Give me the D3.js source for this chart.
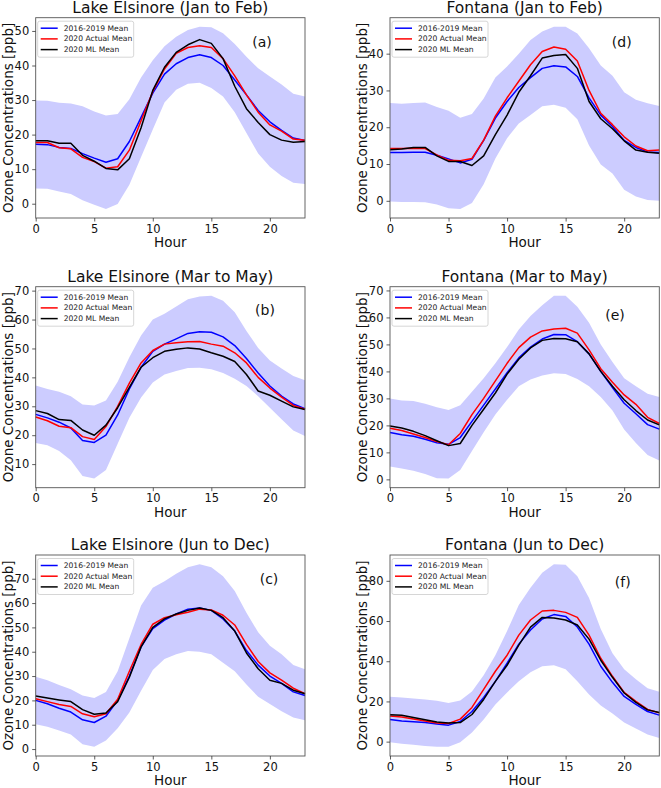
<!DOCTYPE html>
<html><head><meta charset="utf-8">
<script src="https://cdn.jsdelivr.net/npm/d3@7"></script>
<style>body{margin:0;background:#fff}svg{display:block}text{font-family:"DejaVu Sans",sans-serif}</style>
</head><body>
<svg id="c" width="661" height="788"></svg>
<script>
const hours = d3.range(0, 24);
const seriesNames = ["2016-2019 Mean", "2020 Actual Mean", "2020 ML Mean"];
const seriesColors = ["#0000ff", "#ff0000", "#000000"];

// Panel (a) Lake Elsinore Jan-Feb
const a_hist = [17.2,17.1,16.3,16.0,14.5,13.2,12.0,13.0,18.0,25.0,32.0,37.5,40.5,42.3,43.1,42.3,40.0,35.8,31.5,27.0,23.7,21.2,19.0,18.3];
const a_act  = [17.7,17.7,16.2,15.9,13.4,12.2,10.3,10.7,15.5,24.0,32.5,39.0,43.5,45.2,45.7,45.2,42.0,37.0,31.5,26.5,22.8,21.0,18.7,18.4];
const a_ml   = [18.2,18.2,17.5,17.5,14.0,12.3,10.2,9.8,13.0,22.0,32.8,39.5,43.8,46.0,47.5,46.4,42.0,34.0,27.5,23.5,20.0,18.4,17.8,18.0];
const a_up   = [29.9,29.8,29.2,29.0,28.2,26.7,25.5,26.0,30.2,36.5,41.5,45.6,48.3,50.3,51.2,51.1,49.3,46.2,42.5,39.2,36.8,34.5,31.8,31.0];
const a_lo   = [4.4,4.3,3.5,2.8,1.0,-0.3,-1.5,-0.1,5.5,13.5,21.5,29.3,33.0,34.7,35.0,33.5,31.0,26.5,20.5,14.5,10.7,8.0,6.1,5.7];

// Panel (d) Fontana Jan-Feb
const d_hist = [13.1,13.1,13.2,13.2,12.4,11.4,10.3,11.3,16.4,22.5,27.0,30.8,33.5,36.0,36.7,36.4,33.8,28.0,23.3,20.2,16.4,14.5,13.3,13.1];
const d_act  = [14.2,14.2,14.3,14.2,12.5,11.0,10.9,11.5,16.5,23.0,28.0,32.5,37.0,40.6,41.8,41.2,38.0,30.0,23.8,20.7,17.4,14.9,13.6,13.8];
const d_ml   = [13.9,14.1,14.5,14.5,12.2,10.7,10.7,9.6,12.2,18.0,23.3,29.5,34.0,38.8,39.5,39.8,36.0,27.0,22.3,19.6,16.3,13.8,13.2,12.9];
const d_up   = [26.6,26.4,26.6,26.7,25.5,24.5,22.6,23.6,27.8,33.5,36.5,40.0,43.7,46.0,47.3,47.3,45.5,41.5,36.8,34.0,29.5,27.5,26.5,25.8];
const d_lo   = [-0.2,-0.3,-0.3,-0.4,-1.0,-2.0,-2.2,-0.6,4.5,11.5,17.0,21.0,23.3,25.7,26.1,25.3,22.2,15.0,9.9,7.4,3.0,1.2,0.2,0.0];

// Panel (b) Lake Elsinore Mar-May
const b_hist = [27.2,26.0,24.5,22.5,18.2,17.5,20.0,27.0,36.0,43.5,49.0,51.5,53.3,55.2,55.8,55.6,54.0,51.0,46.5,41.5,37.0,33.5,30.8,29.2];
const b_act  = [26.3,25.0,23.1,22.6,19.5,18.5,23.0,30.0,38.0,45.0,49.3,51.5,52.0,52.3,52.4,51.5,50.8,48.5,45.0,40.0,36.3,33.2,30.3,29.0];
const b_ml   = [28.5,27.5,25.4,25.1,21.8,20.0,23.5,29.5,36.5,43.5,46.8,49.0,49.7,50.2,49.8,48.5,47.3,45.5,41.0,35.3,33.8,31.8,29.8,28.9];
const b_up   = [37.2,36.0,35.0,33.5,30.6,30.3,32.0,38.5,47.0,54.5,60.0,62.0,64.5,67.0,68.0,68.2,66.5,62.5,56.0,50.2,45.8,43.1,40.5,39.0];
const b_lo   = [17.3,16.5,14.5,11.3,5.9,5.0,8.0,17.0,26.0,33.0,38.2,41.0,42.2,43.2,43.3,42.8,41.5,39.5,37.0,33.5,29.5,25.5,21.6,19.7];

// Panel (e) Fontana Mar-May
const e_hist = [17.4,16.5,16.0,14.9,13.6,13.0,15.5,21.5,27.5,33.5,39.5,45.0,49.0,52.0,53.7,53.6,51.0,46.5,40.0,34.0,28.2,24.3,20.3,18.6];
const e_act  = [18.9,18.1,16.8,15.5,14.0,12.8,17.0,24.0,30.0,36.5,43.0,48.8,52.7,55.0,55.7,56.0,54.2,48.0,41.0,36.0,31.3,27.8,23.0,20.7];
const e_ml   = [19.8,19.0,17.8,16.2,14.3,12.5,13.3,20.0,26.0,32.0,39.0,44.5,48.7,51.5,52.2,52.1,51.0,46.5,40.0,34.5,29.5,25.5,22.0,20.2];
const e_up   = [30.0,29.2,29.0,28.0,26.7,25.7,27.5,32.5,37.5,43.0,49.0,55.5,60.5,64.5,68.0,68.0,64.0,58.0,50.0,43.5,37.5,34.5,31.7,30.5];
const e_lo   = [4.8,4.0,3.2,2.0,0.4,0.3,3.5,10.5,17.5,24.0,29.5,34.5,37.0,38.5,39.3,39.0,37.2,34.5,30.5,25.5,18.5,13.5,9.0,7.0];

// Panel (c) Lake Elsinore Jun-Dec
const c_hist = [20.0,18.6,16.8,15.2,12.0,10.9,13.5,20.0,30.0,42.0,49.5,53.0,55.5,57.5,58.0,57.0,53.5,48.5,40.5,34.5,30.0,27.0,23.5,22.0];
const c_act  = [20.7,19.5,18.3,17.5,14.5,13.3,14.5,20.5,32.0,43.0,51.3,54.0,55.2,56.2,57.5,57.2,55.0,51.0,43.0,36.0,31.3,28.3,25.0,22.8];
const c_ml   = [21.8,21.0,20.2,19.5,16.2,14.3,14.8,19.5,29.5,42.0,50.0,53.5,55.5,57.0,58.0,57.0,54.0,48.5,39.5,33.0,28.3,27.0,24.2,22.7];
const c_up   = [29.7,28.3,26.3,24.6,22.0,21.0,23.5,32.0,45.5,59.0,66.3,69.0,72.0,74.7,76.0,74.7,71.0,65.0,56.0,48.0,42.5,39.0,34.5,32.8];
const c_lo   = [10.2,9.2,7.6,6.0,2.0,0.9,3.5,8.5,15.0,24.0,32.5,37.0,39.0,40.3,40.0,39.0,35.5,32.0,26.5,21.5,18.5,15.5,13.0,11.8];

// Panel (f) Fontana Jun-Dec
const f_hist = [11.0,10.3,9.9,9.5,8.8,8.2,10.0,15.0,22.0,30.0,39.0,48.5,55.5,61.0,63.2,62.3,57.0,48.5,37.5,29.5,22.5,18.5,15.0,13.2];
const f_act  = [12.7,12.2,11.3,10.3,9.3,9.0,11.2,17.0,26.0,35.0,43.0,53.0,60.5,65.0,65.3,64.3,61.8,53.0,41.5,32.5,24.5,20.0,16.0,14.3];
const f_ml   = [13.4,13.1,12.0,10.9,9.8,9.3,9.5,13.5,21.0,30.0,38.0,48.0,57.0,61.8,61.5,60.5,58.0,51.0,40.5,32.0,24.2,19.5,15.8,14.5];
const f_up   = [22.3,22.0,21.5,21.0,20.3,19.2,20.5,25.0,33.0,43.0,55.0,68.0,76.5,84.0,88.3,88.0,82.3,71.5,56.0,44.0,36.0,31.0,26.5,24.8];
const f_lo   = [-0.3,-1.0,-1.6,-2.2,-2.6,-2.6,-0.3,4.5,11.0,18.5,24.5,30.0,34.5,37.5,38.0,36.0,30.0,23.5,18.0,14.0,9.5,6.5,3.5,1.8];

const titles = ["Lake Elsinore (Jan to Feb)","Fontana (Jan to Feb)","Lake Elsinore (Mar to May)","Fontana (Mar to May)","Lake Elsinore (Jun to Dec)","Fontana (Jun to Dec)"];
const panelLabels = ["(a)","(d)","(b)","(e)","(c)","(f)"];
const xTicks = [0,5,10,15,20];
const yTicksA = [0,10,20,30,40,50];
const yTicksD = [0,10,20,30,40];
const yTicksB = [10,20,30,40,50,60,70];
const yTicksE = [0,10,20,30,40,50,60,70];
const yTicksC = [0,10,20,30,40,50,60,70];
const yTicksF = [0,20,40,60,80];

const panels = [
  {series:[a_hist,a_act,a_ml], up:a_up, lo:a_lo, yt:yTicksA},
  {series:[d_hist,d_act,d_ml], up:d_up, lo:d_lo, yt:yTicksD},
  {series:[b_hist,b_act,b_ml], up:b_up, lo:b_lo, yt:yTicksB},
  {series:[e_hist,e_act,e_ml], up:e_up, lo:e_lo, yt:yTicksE},
  {series:[c_hist,c_act,c_ml], up:c_up, lo:c_lo, yt:yTicksC},
  {series:[f_hist,f_act,f_ml], up:f_up, lo:f_lo, yt:yTicksF},
];

// layout
const cols = [[35.7,305],[390,659.3]];
const rows = [[17.7,218],[286.7,487.7],[555,756]];
const labelPos = [[262,41.7],[621.7,41.7],[265,310],[615,315],[269,578.7],[622.7,582]];

const svg = d3.select("#c");

panels.forEach((p,i)=>{
  const col = cols[i%2], row = rows[Math.floor(i/2)];
  const lo = d3.min(p.lo), hi = d3.max(p.up);
  const m = (hi-lo)*0.05;
  const x = d3.scaleLinear().domain([0,23]).range(col);
  const y = d3.scaleLinear().domain([lo-m, hi+m]).range([row[1], row[0]]);
  const g = svg.append("g");

  const area = d3.area().x((d,j)=>x(hours[j])).y0((d,j)=>y(p.lo[j])).y1((d,j)=>y(p.up[j]));
  g.append("path").datum(p.up).attr("d",area).attr("fill","rgb(204,204,255)").attr("stroke","none");

  const line = d3.line().x((d,j)=>x(hours[j])).y(d=>y(d));
  p.series.forEach((s,k)=>{
    g.append("path").datum(s).attr("d",line).attr("fill","none")
      .attr("stroke",seriesColors[k]).attr("stroke-width",1.5).attr("stroke-linejoin","round");
  });

  // frame
  g.append("rect").attr("x",col[0]).attr("y",row[0]).attr("width",col[1]-col[0]).attr("height",row[1]-row[0])
    .attr("fill","none").attr("stroke","#555").attr("stroke-width",0.9);

  const xa = g.append("g").attr("transform",`translate(0,${row[1]})`)
    .call(d3.axisBottom(x).tickValues(xTicks).tickSize(3.5).tickPadding(3).tickFormat(d3.format("d")));
  const ya = g.append("g").attr("transform",`translate(${col[0]},0)`)
    .call(d3.axisLeft(y).tickValues(p.yt).tickSize(3.5).tickPadding(3).tickFormat(d3.format("d")));
  [xa,ya].forEach(a=>{
    a.select(".domain").remove();
    a.selectAll("line").attr("stroke","#333").attr("stroke-width",0.8);
    a.selectAll("text").attr("font-size",11.5).attr("fill","#111").attr("font-family","DejaVu Sans");
  });

  // title
  g.append("text").attr("x",(col[0]+col[1])/2).attr("y",row[0]-5).attr("text-anchor","middle")
    .attr("font-size",15.5).attr("fill","#111").text(titles[i]);
  // x label
  g.append("text").attr("x",(col[0]+col[1])/2).attr("y",row[1]+29).attr("text-anchor","middle")
    .attr("font-size",13.5).attr("fill","#111").text("Hour");
  // y label
  const ylx = i%2===0 ? 13 : 366.5;
  g.append("text").attr("transform",`translate(${ylx},${(row[0]+row[1])/2}) rotate(-90)`)
    .attr("text-anchor","middle").attr("font-size",13.5).attr("fill","#111").text("Ozone Concentrations [ppb]");
  // panel label
  g.append("text").attr("x",labelPos[i][0]).attr("y",labelPos[i][1]).attr("text-anchor","middle")
    .attr("dominant-baseline","central").attr("font-size",14).attr("fill","#111").text(panelLabels[i]);

  // legend
  const lx = col[0]+2, ly = row[0]+3.5;
  const lg = g.append("g").attr("transform",`translate(${lx},${ly})`);
  lg.append("rect").attr("width",96).attr("height",36).attr("rx",2).attr("fill","#fff").attr("fill-opacity",0.85)
    .attr("stroke","#ccc").attr("stroke-width",0.8);
  seriesNames.forEach((n,k)=>{
    const yy = 7 + k*10.7;
    lg.append("line").attr("x1",3).attr("x2",20).attr("y1",yy).attr("y2",yy).attr("stroke",seriesColors[k]).attr("stroke-width",1.5);
    lg.append("text").attr("x",26).attr("y",yy).attr("dominant-baseline","central").attr("font-size",7.6).attr("fill","#222").text(n);
  });
});
</script>
</body></html>
